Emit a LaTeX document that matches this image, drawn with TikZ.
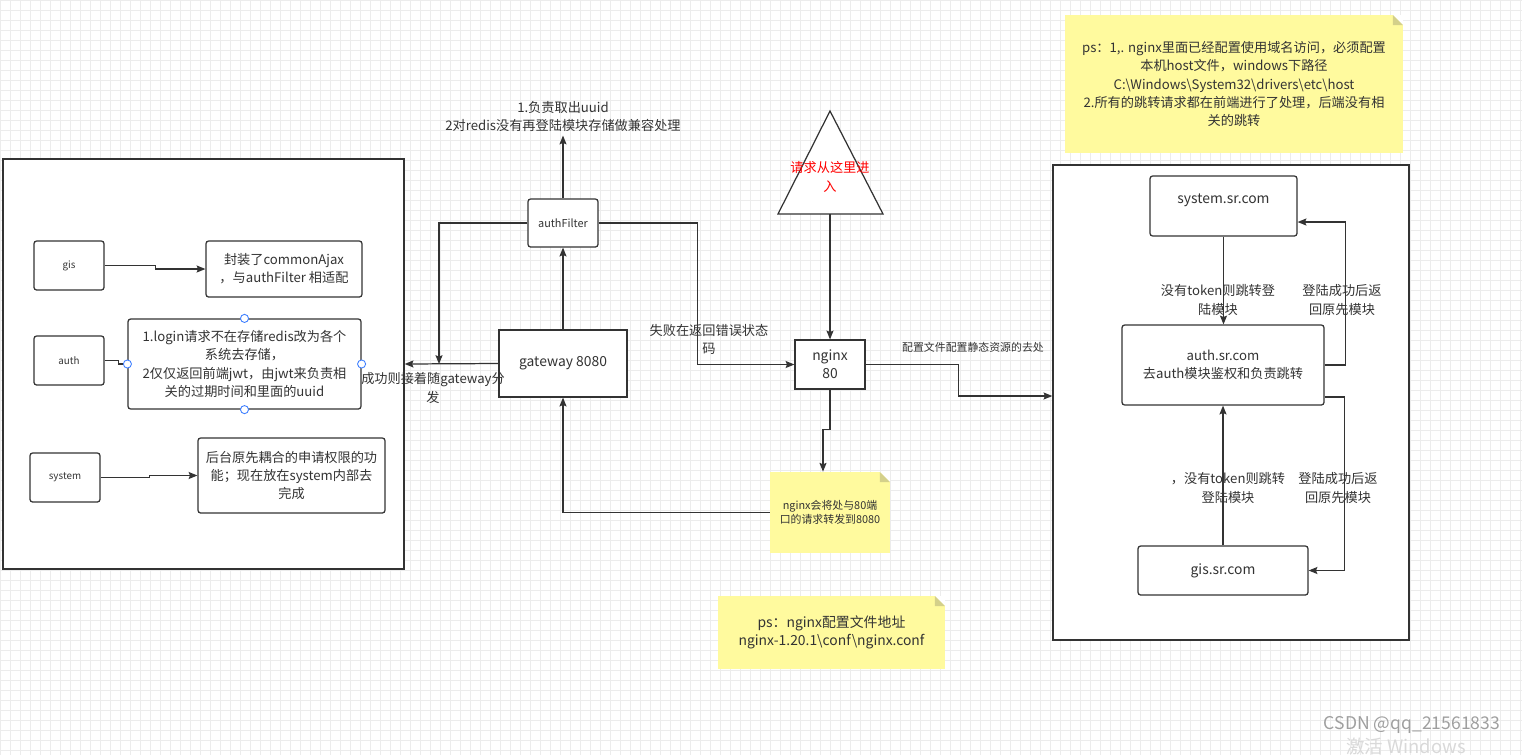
\documentclass[tikz,border=0pt]{standalone}
\usepackage{fontspec}
\setmainfont{Noto Sans CJK SC}
\usetikzlibrary{arrows.meta,calc}
\definecolor{linec}{HTML}{333333}
\definecolor{notec}{HTML}{FFFA9E}
\definecolor{foldc}{HTML}{D4D08A}
\definecolor{gridc}{HTML}{ECECEC}
\definecolor{handlec}{HTML}{3D7EFF}
\tikzset{
  conn/.style={draw=linec, line width=0.7pt, -{Stealth[length=5pt,width=4pt,inset=0.8pt]}},
  plainline/.style={draw=linec, line width=0.7pt},
  frame/.style={draw=linec, line width=0.8pt, fill=white, inner sep=0pt},
  box/.style={draw=linec, line width=0.7pt, fill=white, rounded corners=1.5pt, inner sep=0pt, align=center, text=linec},
  sqbox/.style={box, sharp corners},
  note/.style={fill=notec, inner sep=0pt, align=center, text=linec,
    path picture={
      \fill[white] ([xshift=-5.7pt]path picture bounding box.north east) -- (path picture bounding box.north east) -- ([yshift=-5.7pt]path picture bounding box.north east) -- cycle;
      \fill[foldc] ([xshift=-5.7pt]path picture bounding box.north east) -- ([xshift=-5.7pt,yshift=-5.7pt]path picture bounding box.north east) -- ([yshift=-5.7pt]path picture bounding box.north east) -- cycle;
    }},
  bigtxt/.style={font=\fontsize{7.9}{10.3}\selectfont},
  midtxt/.style={font=\fontsize{7.5}{10.4}\selectfont},
  smalltxt/.style={font=\fontsize{6.2}{8}\selectfont},
  minitxt/.style={font=\fontsize{5.6}{7}\selectfont},
  lbl/.style={text=linec, align=center, inner sep=0pt},
  handle/.style={circle, draw=handlec, fill=white, line width=0.5pt, minimum size=4.6pt, inner sep=0pt},
}

\begin{document}
\begin{tikzpicture}[x=0.02cm, y=-0.02cm]
\useasboundingbox (0,0) rectangle (1522,755);
% background grid
\fill[white] (0,0) rectangle (1522,755);
\foreach \gx in {0,10,...,1520} \draw[gridc, line width=0.4pt] (\gx,0) -- (\gx,755);
\foreach \gy in {0,10,...,750} \draw[gridc, line width=0.4pt] (0,\gy) -- (1522,\gy);

% frames
\node[frame, minimum width=8.02cm, minimum height=8.2cm] (leftframe) at (203.5,364) {};
\node[frame, minimum width=7.12cm, minimum height=9.5cm] (rightframe) at (1231,402.5) {};

% left side modules
\node[box, minitxt, minimum width=1.4cm, minimum height=0.98cm] (gis) at (69,265.5) {gis};
\node[box, minitxt, minimum width=1.4cm, minimum height=0.98cm] (auth) at (69,360.5) {auth};
\node[box, minitxt, minimum width=1.4cm, minimum height=0.98cm] (system) at (65,477.5) {system};
\node[box, midtxt, minimum width=3.12cm, minimum height=1.12cm] (ajax) at (284,269) {封装了commonAjax\\，与authFilter 相适配};
\node[box, midtxt, minimum width=4.66cm, minimum height=1.8cm] (login) at (244.5,364) {1.login请求不在存储redis改为各个\\系统去存储，\\2仅仅返回前端jwt，由jwt来负责相\\关的过期时间和里面的uuid};
\node[box, midtxt, minimum width=3.74cm, minimum height=1.5cm] (perm) at (291.5,475.5) {后台原先耦合的申请权限的功\\能；现在放在system内部去\\完成};

\draw[conn] (gis.east) -- ++(51,0) |- (ajax.west);
\draw[plainline] (auth.east) -- ++(14,0) |- (login.west);
\draw[conn] (system.east) -- ++(49,0) |- (perm.west);

\node[handle] (hn) at (login.north) {};
\node[handle] (hs) at (login.south) {};
\node[handle] (hw) at (login.west) {};
\node[handle] (he) at (login.east) {};

% gateway and filter
\node[box, smalltxt, minimum width=1.4cm, minimum height=0.96cm] (authfilter) at (563,223) {authFilter};
\node[sqbox, bigtxt, minimum width=2.56cm, minimum height=1.34cm] (gateway) at (563,363.5) {gateway 8080};
\node[lbl, midtxt] (uuidnote) at (563,116.5) {1.负责取出uuid\\2对redis没有再登陆模块存储做兼容处理};
\coordinate (join) at (439,364);

\draw[conn] (gateway.north) -- (authfilter.south);
\draw[conn] (authfilter.north) -- ([yshift=-2pt]uuidnote.south);
\draw[conn] (authfilter.west) -| (join);
\draw[conn] (gateway.west) -- (leftframe.east);
\node[lbl, midtxt] (oklbl) at (433,388) {成功则接着随gateway分\\发};

% nginx
\draw[plainline, fill=white] (778,214) -- (830,111) -- (883,214) -- cycle;
\coordinate (tribase) at (830,214);
\node[lbl, midtxt, text=red] (entry) at (830,177) {请求从这里进\\入};
\node[sqbox, bigtxt, minimum width=1.4cm, minimum height=0.98cm] (nginx) at (830,364.5) {nginx\\80};
\draw[conn] (authfilter.east) -- ++(99,0) |- (nginx.west);
\node[lbl, midtxt] (faillbl) at (709,339.5) {失败在返回错误状态\\码};
\draw[conn] (tribase) -- (nginx.north);

\node[note, smalltxt, minimum width=2.4cm, minimum height=1.62cm] (fwdnote) at (830,512.5) {nginx会将处与80端\\口的请求转发到8080};
\node[note, bigtxt, minimum width=4.54cm, minimum height=1.46cm] (psnote) at (831.5,632.5) {ps：nginx配置文件地址\\nginx-1.20.1\textbackslash conf\textbackslash nginx.conf};
\draw[conn] (nginx.south) |- ++(-7,40) -- ($(fwdnote.north)+(-7,0)$);
\draw[conn] (fwdnote.west) -| (gateway.south);

\draw[conn] (nginx.east) -- ++(93,0) |- ($(rightframe.west)+(0,-6.5)$);
\node[lbl, smalltxt] (staticlbl) at (973,347) {配置文件配置静态资源的去处};

% top note
\node[note, midtxt, minimum width=6.76cm, minimum height=2.76cm] (topnote) at (1234,84) {ps：1,. nginx里面已经配置使用域名访问，必须配置\\本机host文件，windows下路径\\C:\textbackslash Windows\textbackslash System32\textbackslash drivers\textbackslash etc\textbackslash host\\2.所有的跳转请求都在前端进行了处理，后端没有相\\关的跳转};

% domains
\node[box, minimum width=2.94cm, minimum height=1.2cm, label={[lbl, bigtxt, yshift=3.5pt]center:system.sr.com}] (sysdom) at (1223.5,206) {};
\node[box, midtxt, minimum width=4.04cm, minimum height=1.6cm] (authdom) at (1223,365) {auth.sr.com\\去auth模块鉴权和负责跳转};
\node[box, bigtxt, minimum width=3.4cm, minimum height=0.98cm] (gisdom) at (1223,570.5) {gis.sr.com};

\draw[conn] (sysdom.south) -- (sysdom.south |- authdom.north);
\draw[conn] (authdom.east) -- ++(21,0) |- ($(sysdom.east)+(0,16)$);
\draw[conn] (gisdom.north) -- (gisdom.north |- authdom.south);
\draw[conn] ($(authdom.east)+(0,32)$) -- ++(20,0) |- (gisdom.east);

\node[lbl, midtxt] (tologin1) at (1218,300) {没有token则跳转登\\陆模块};
\node[lbl, midtxt] (back1) at (1342,300) {登陆成功后返\\回原先模块};
\node[lbl, midtxt] (tologin2) at (1228,488) {，没有token则跳转\\登陆模块};
\node[lbl, midtxt] (back2) at (1338,488) {登陆成功后返\\回原先模块};

% watermarks
\node[text=gray!30, font=\fontsize{10.5}{12}\selectfont, inner sep=0pt] (actwin) at (1406,746) {激活 Windows};
\node[text=gray!75, font=\fontsize{10}{12}\selectfont, inner sep=0pt] (csdn) at (1412,725) {CSDN @qq\_21561833};
\end{tikzpicture}
\end{document}
